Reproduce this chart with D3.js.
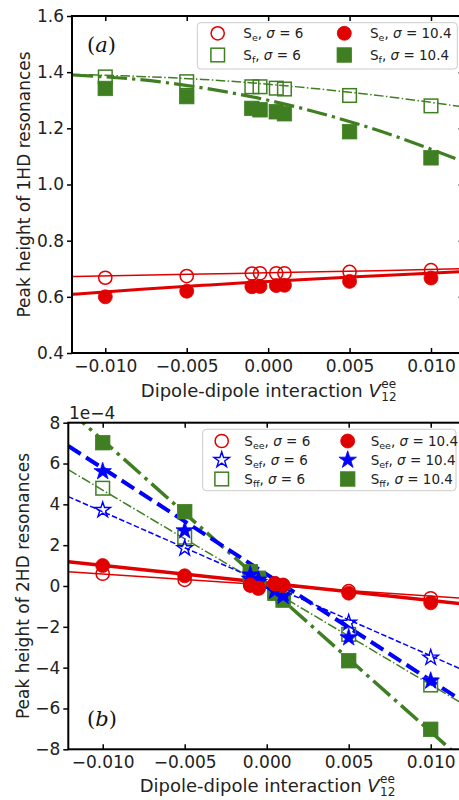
<!DOCTYPE html>
<html><head><meta charset="utf-8">
<script src="https://cdn.jsdelivr.net/npm/d3@7"></script>
<style>body{margin:0;background:#fff} svg{display:block}</style>
</head><body>
<script>
// ---------- data ----------
const xPts = [-0.010, -0.005, -0.001, -0.0005, 0.0005, 0.001, 0.005, 0.010];
// panel (a): 1HD peak heights
const seSigma6   = [0.668, 0.674, 0.683, 0.684, 0.684, 0.684, 0.689, 0.695];
const seSigma104 = [0.600, 0.620, 0.636, 0.637, 0.640, 0.641, 0.655, 0.667];
const sfSigma6   = [1.383, 1.366, 1.348, 1.348, 1.343, 1.340, 1.317, 1.280];
const sfSigma104 = [1.342, 1.313, 1.271, 1.266, 1.259, 1.252, 1.188, 1.095];
// panel (a): fitted curves
const fitXa       = [-0.012, -0.008, -0.004, 0, 0.004, 0.008, 0.012];
const seFit6      = [0.672, 0.677, 0.681, 0.686, 0.690, 0.695, 0.700];
const seFit104    = [0.609, 0.626, 0.641, 0.655, 0.667, 0.679, 0.690];
const sfFit6      = [1.392, 1.385, 1.374, 1.357, 1.335, 1.308, 1.276];
const sfFit104    = [1.390, 1.374, 1.344, 1.300, 1.241, 1.168, 1.081];
// panel (b): 2HD peak heights (units of 1e-4)
const seeSigma6   = [0.60, 0.30, 0.02, -0.12, 0.10, 0.02, -0.25, -0.60];
const seeSigma104 = [1.00, 0.50, 0.05, -0.10, 0.13, 0.05, -0.35, -0.82];
const sefSigma6   = [3.72, 1.85, 0.35, 0.18, -0.18, -0.35, -1.80, -3.51];
const sefSigma104 = [5.61, 2.71, 0.55, 0.30, -0.25, -0.50, -2.53, -4.65];
const sffSigma6   = [4.79, 2.39, 0.45, 0.24, -0.24, -0.48, -2.37, -4.85];
const sffSigma104 = [7.02, 3.64, 0.70, 0.38, -0.36, -0.69, -3.66, -7.02];
// panel (b): fitted lines
const fitXb       = [-0.0121, 0.0121];
const seeFit6     = [0.70, -0.61];
const seeFit104   = [1.19, -0.89];
const sefFit6     = [4.38, -4.16];
const sefFit104   = [6.86, -5.72];
const sffFit6     = [5.70, -5.84];
const sffFit104   = [8.64, -8.64];
// ticks
const xTicks = [-0.010, -0.005, 0, 0.005, 0.010];
const xTickLabels = ["\u22120.010", "\u22120.005", "0.000", "0.005", "0.010"];
const yTicksA = [0.4, 0.6, 0.8, 1.0, 1.2, 1.4, 1.6];
const yTickLabelsA = ["0.4", "0.6", "0.8", "1.0", "1.2", "1.4", "1.6"];
const yTicksB = [-8, -6, -4, -2, 0, 2, 4, 6, 8];
const yTickLabelsB = ["\u22128", "\u22126", "\u22124", "\u22122", "0", "2", "4", "6", "8"];

// ---------- style ----------
const RED = "#e00000", BLUE = "#0000ff", GREEN = "#3f7f22";
const FONT = "DejaVu Sans, sans-serif";

const svg = d3.select("body").append("svg").attr("width", 459).attr("height", 800)
  .style("font-family", FONT);

function dashDot(lw) { return [6.4 * lw, 1.6 * lw, 1.0 * lw, 1.6 * lw].join(","); }
function dashed(lw) { return [3.7 * lw, 1.6 * lw].join(","); }

function drawMarker(g, shape, x, y, color, filled) {
  const fill = filled ? color : "none";
  if (shape === "circle") {
    g.append("circle").attr("cx", x).attr("cy", y).attr("r", filled ? 7 : 6.6)
      .attr("fill", fill).attr("stroke", color).attr("stroke-width", filled ? 0.8 : 1.5);
  } else if (shape === "square") {
    const s = filled ? 14.5 : 13.6;
    g.append("rect").attr("x", x - s / 2).attr("y", y - s / 2).attr("width", s).attr("height", s)
      .attr("fill", fill).attr("stroke", color).attr("stroke-width", filled ? 0.8 : 1.5);
  } else if (shape === "star") {
    g.append("path").attr("d", d3.symbol(d3.symbolStar, filled ? 95 : 75)())
      .attr("transform", `translate(${x},${y})`)
      .attr("fill", fill).attr("stroke", color).attr("stroke-width", filled ? 0.8 : 1.4);
  }
}

function panel(opt) {
  const { x, y, left, right, top, bottom } = opt;
  const g = svg.append("g");
  const clipId = "clip" + opt.id;
  svg.append("clipPath").attr("id", clipId).append("rect")
    .attr("x", left).attr("y", top).attr("width", right - left).attr("height", bottom - top);
  const plot = g.append("g").attr("clip-path", `url(#${clipId})`);

  // lines
  opt.lines.forEach(L => {
    const line = d3.line().x(d => x(d[0])).y(d => y(d[1])).curve(L.curve || d3.curveLinear);
    plot.append("path").datum(L.xs.map((xx, i) => [xx, L.ys[i]]))
      .attr("d", line).attr("fill", "none").attr("stroke", L.color)
      .attr("stroke-width", L.lw).attr("stroke-dasharray", L.dash || null);
  });
  // markers
  opt.series.forEach(S => {
    S.ys.forEach((v, i) => drawMarker(plot, S.shape, x(xPts[i]), y(v), S.color, S.filled));
  });

  // axes
  const axB = d3.axisBottom(x).tickValues(xTicks).tickFormat((d, i) => xTickLabels[i])
    .tickSizeInner(-5).tickSizeOuter(0).tickPadding(7);
  const axT = d3.axisTop(x).tickValues(xTicks).tickFormat("").tickSizeInner(-5).tickSizeOuter(0);
  const axL = d3.axisLeft(y).tickValues(opt.yTicks).tickFormat((d, i) => opt.yLabels[i])
    .tickSizeInner(5).tickSizeOuter(0).tickPadding(3);
  const axR = d3.axisRight(y).tickValues(opt.yTicks).tickFormat("").tickSizeInner(-5).tickSizeOuter(0);
  const axes = [
    g.append("g").attr("transform", `translate(0,${bottom})`).call(axB),
    g.append("g").attr("transform", `translate(0,${top})`).call(axT),
    g.append("g").attr("transform", `translate(${left},0)`).call(axL),
    g.append("g").attr("transform", `translate(${right},0)`).call(axR)
  ];
  axes.forEach(a => {
    a.select(".domain").remove();
    a.selectAll("line").attr("stroke", "#000").attr("stroke-width", 1.5);
    a.selectAll("text").attr("font-family", FONT).attr("font-size", 17).attr("fill", "#222");
  });
  g.append("rect").attr("x", left).attr("y", top).attr("width", right - left).attr("height", bottom - top)
    .attr("fill", "none").attr("stroke", "#000").attr("stroke-width", 2);

  // x label: main text plus separate sub/superscript texts
  const xl = g.append("text").attr("y", opt.xLabelY)
    .attr("font-size", 18).attr("fill", "#222");
  xl.append("tspan").text("Dipole-dipole interaction ");
  xl.append("tspan").attr("font-style", "italic").text("V");
  const w = xl.node().getComputedTextLength();
  const totalW = w + 14;
  const x0 = (left + right) / 2 - totalW / 2;
  xl.attr("x", x0);
  g.append("text").attr("x", x0 + w + 0.5).attr("y", opt.xLabelY + 4).attr("font-size", 12)
    .attr("fill", "#222").text("12");
  g.append("text").attr("x", x0 + w + 0.5).attr("y", opt.xLabelY - 9).attr("font-size", 12)
    .attr("fill", "#222").text("ee");
  // y label
  g.append("text").attr("transform", `translate(${opt.yLabelX},${(top + bottom) / 2}) rotate(-90)`)
    .attr("text-anchor", "middle").attr("font-size", 17).attr("fill", "#222").text(opt.yLabel);
  // panel label
  const pl = g.append("text").attr("x", opt.pLabel[0]).attr("y", opt.pLabel[1])
    .attr("font-family", "DejaVu Serif, serif").attr("font-size", 21).attr("fill", "#111");
  pl.append("tspan").text("(");
  pl.append("tspan").attr("font-style", "italic").text(opt.pLabel[2]);
  pl.append("tspan").text(")");

  // legend
  const Lg = opt.legend;
  g.append("rect").attr("x", Lg.box[0]).attr("y", Lg.box[1]).attr("width", Lg.box[2]).attr("height", Lg.box[3])
    .attr("rx", 3.5).attr("fill", "#fff").attr("fill-opacity", 0.8).attr("stroke", "#cccccc").attr("stroke-width", 1);
  Lg.items.forEach(it => {
    drawMarker(g, it.shape, it.mx, it.my, it.color, it.filled);
    const t = g.append("text").attr("x", it.tx).attr("y", it.my + 5).attr("font-size", 13.5).attr("fill", "#222");
    t.append("tspan").text("S");
    t.append("tspan").attr("font-size", 9.5).attr("dy", 3).text(it.sub);
    t.append("tspan").attr("dy", -3).text(", ");
    t.append("tspan").attr("font-style", "italic").text("\u03c3");
    t.append("tspan").text(" = " + it.sig);
  });
  return g;
}

// ---------- panel (a) ----------
const xa = d3.scaleLinear().domain([-0.010, 0.010]).range([105.3, 431]);
const ya = d3.scaleLinear().domain([0.4, 1.6]).range([353, 16]);
panel({
  id: "a", x: xa, y: ya, left: 72, right: 463.6, top: 16, bottom: 353,
  yTicks: yTicksA, yLabels: yTickLabelsA,
  xLabelY: 397, yLabelX: 30, yLabel: "Peak height of 1HD resonances",
  pLabel: [87, 52, "a"],
  lines: [
    { xs: fitXa, ys: seFit6, color: RED, lw: 1.5, curve: d3.curveNatural },
    { xs: fitXa, ys: seFit104, color: RED, lw: 3, curve: d3.curveNatural },
    { xs: fitXa, ys: sfFit6, color: GREEN, lw: 1.5, dash: dashDot(1.5), curve: d3.curveNatural },
    { xs: fitXa, ys: sfFit104, color: GREEN, lw: 3.2, dash: dashDot(3.2), curve: d3.curveNatural }
  ],
  series: [
    { ys: seSigma104, shape: "circle", color: RED, filled: true },
    { ys: seSigma6, shape: "circle", color: RED, filled: false },
    { ys: sfSigma104, shape: "square", color: GREEN, filled: true },
    { ys: sfSigma6, shape: "square", color: GREEN, filled: false }
  ],
  legend: {
    box: [197.3, 22.7, 260, 46.3],
    items: [
      { shape: "circle", color: RED, filled: false, mx: 217.7, my: 33.3, tx: 243.3, sub: "e", sig: "6" },
      { shape: "square", color: GREEN, filled: false, mx: 217.7, my: 55, tx: 243.3, sub: "f", sig: "6" },
      { shape: "circle", color: RED, filled: true, mx: 344.3, my: 33.3, tx: 370, sub: "e", sig: "10.4" },
      { shape: "square", color: GREEN, filled: true, mx: 344.3, my: 55, tx: 370, sub: "f", sig: "10.4" }
    ]
  }
});

// ---------- panel (b) ----------
const xb = d3.scaleLinear().domain([-0.010, 0.010]).range([102.7, 430.7]);
const yb = d3.scaleLinear().domain([-8, 8]).range([749.3, 422.7]);
panel({
  id: "b", x: xb, y: yb, left: 68.3, right: 465, top: 422.7, bottom: 749.3,
  yTicks: yTicksB, yLabels: yTickLabelsB,
  xLabelY: 792, yLabelX: 29, yLabel: "Peak height of 2HD resonances",
  pLabel: [87, 726, "b"],
  lines: [
    { xs: fitXb, ys: sffFit6, color: GREEN, lw: 1.5, dash: dashDot(1.5) },
    { xs: fitXb, ys: sffFit104, color: GREEN, lw: 3.5, dash: dashDot(3.5) },
    { xs: fitXb, ys: sefFit6, color: BLUE, lw: 1.5, dash: dashed(1.5) },
    { xs: fitXb, ys: sefFit104, color: BLUE, lw: 4, dash: dashed(4) },
    { xs: fitXb, ys: seeFit6, color: RED, lw: 1.5 },
    { xs: fitXb, ys: seeFit104, color: RED, lw: 3.5 }
  ],
  series: [
    { ys: sffSigma104, shape: "square", color: GREEN, filled: true },
    { ys: sffSigma6, shape: "square", color: GREEN, filled: false },
    { ys: sefSigma6, shape: "star", color: BLUE, filled: false },
    { ys: sefSigma104, shape: "star", color: BLUE, filled: true },
    { ys: seeSigma6, shape: "circle", color: RED, filled: false },
    { ys: seeSigma104, shape: "circle", color: RED, filled: true }
  ],
  legend: {
    box: [202.7, 429.3, 253.3, 61.4],
    items: [
      { shape: "circle", color: RED, filled: false, mx: 221.7, my: 441, tx: 244.3, sub: "ee", sig: "6" },
      { shape: "star", color: BLUE, filled: false, mx: 221.7, my: 460, tx: 244.3, sub: "ef", sig: "6" },
      { shape: "square", color: GREEN, filled: false, mx: 221.7, my: 479, tx: 244.3, sub: "ff", sig: "6" },
      { shape: "circle", color: RED, filled: true, mx: 347.7, my: 441, tx: 370.7, sub: "ee", sig: "10.4" },
      { shape: "star", color: BLUE, filled: true, mx: 347.7, my: 460, tx: 370.7, sub: "ef", sig: "10.4" },
      { shape: "square", color: GREEN, filled: true, mx: 347.7, my: 479, tx: 370.7, sub: "ff", sig: "10.4" }
    ]
  }
});
// offset text
svg.append("text").attr("x", 69).attr("y", 419).attr("font-size", 17).attr("fill", "#222").text("1e\u22124");
</script>
</body></html>
